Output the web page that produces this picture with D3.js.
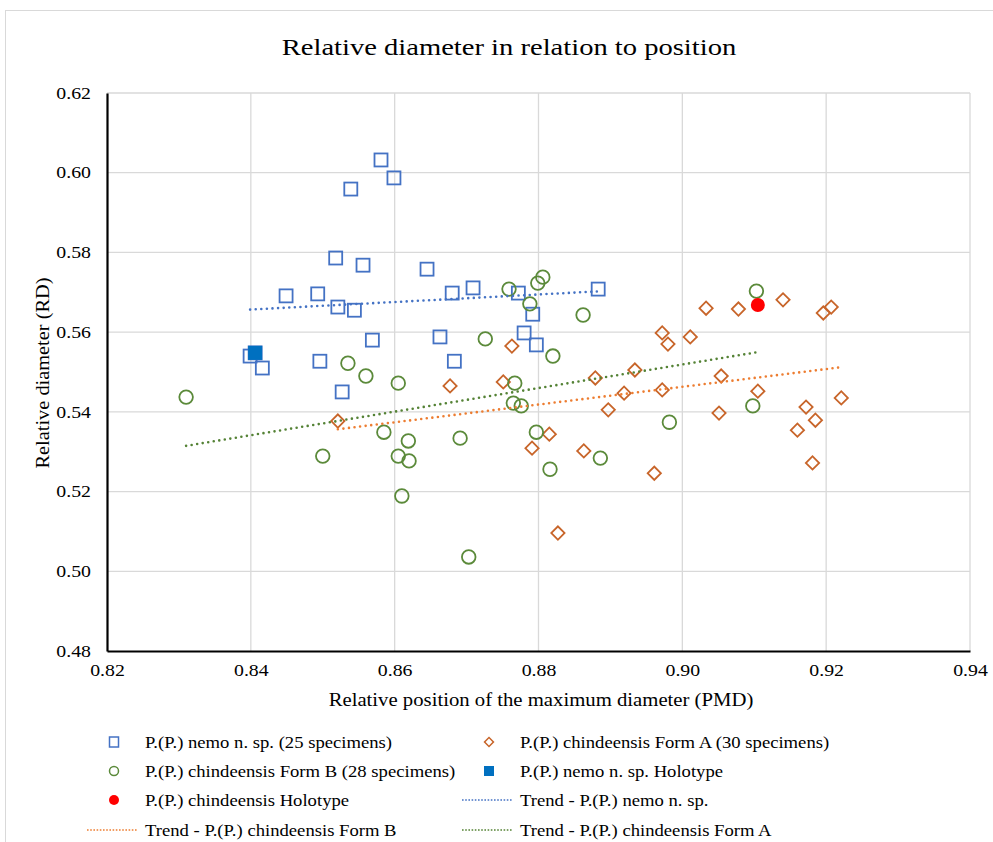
<!DOCTYPE html>
<html>
<head>
<meta charset="utf-8">
<script src="https://cdn.jsdelivr.net/npm/d3@7"></script>
<style>
  body { margin: 0; background: #fff; }
  text { font-family: "Liberation Serif", "Times New Roman", serif; fill: #000; }
</style>
</head>
<body>
<svg id="chart"></svg>
<script>
// P.(P.) nemo n. sp. (hollow squares) - last one sits under the holotype marker
let nemoX = [0.8581, 0.8539, 0.8599, 0.8518, 0.8556, 0.8645, 0.8449, 0.8493, 0.8521, 0.8544,
             0.8680, 0.8709, 0.8772, 0.8883, 0.8569, 0.8663, 0.8780, 0.8792, 0.8797, 0.8683,
             0.8496, 0.8527, 0.8399, 0.8416, 0.8406];
let nemoY = [0.6032, 0.5959, 0.5987, 0.5786, 0.5768, 0.5758, 0.5691, 0.5696, 0.5663, 0.5655,
             0.5698, 0.5711, 0.5698, 0.5708, 0.5580, 0.5588, 0.5598, 0.5645, 0.5568, 0.5527,
             0.5527, 0.5450, 0.5540, 0.5510, 0.5548];

// P.(P.) chindeensis Form A (hollow diamonds)
let formAX = [0.8521, 0.8677, 0.8751, 0.8763, 0.8815, 0.8791, 0.8827, 0.8863, 0.8879, 0.8897,
              0.8919, 0.8934, 0.8961, 0.8972, 0.8972, 0.8980, 0.9011, 0.9033, 0.9078, 0.9140,
              0.9196, 0.9207, 0.9054, 0.9105, 0.9051, 0.9172, 0.9185, 0.9160, 0.9221, 0.9181];
let formAY = [0.5377, 0.5465, 0.5475, 0.5565, 0.5344, 0.5309, 0.5096, 0.5302, 0.5485, 0.5405,
              0.5447, 0.5505, 0.5246, 0.5455, 0.5598, 0.5570, 0.5588, 0.5660, 0.5658, 0.5681,
              0.5648, 0.5663, 0.5490, 0.5452, 0.5397, 0.5412, 0.5379, 0.5354, 0.5435, 0.5272];

// P.(P.) chindeensis Form B (hollow circles)
let formBX = [0.8310, 0.8535, 0.8560, 0.8605, 0.8585, 0.8500, 0.8605, 0.8619, 0.8620, 0.8610,
              0.8691, 0.8703, 0.8726, 0.8759, 0.8806, 0.8799, 0.8788, 0.8862, 0.8820, 0.8767,
              0.8765, 0.8776, 0.8797, 0.8816, 0.8886, 0.8982, 0.9103, 0.9098];
let formBY = [0.5437, 0.5522, 0.5490, 0.5472, 0.5349, 0.5289, 0.5289, 0.5327, 0.5277, 0.5189,
              0.5334, 0.5036, 0.5583, 0.5708, 0.5738, 0.5723, 0.5671, 0.5643, 0.5540, 0.5472,
              0.5422, 0.5415, 0.5349, 0.5256, 0.5284, 0.5374, 0.5703, 0.5415];

// holotypes
let nemoHolotype = [0.8406, 0.5548];
let chindHolotype = [0.9105, 0.5668];

let xTicks = [0.82, 0.84, 0.86, 0.88, 0.90, 0.92, 0.94];
let yTicks = [0.48, 0.50, 0.52, 0.54, 0.56, 0.58, 0.60, 0.62];

let blue = "#4472c4", orange = "#c8652a", green = "#5b8a3a";
let orangeTrend = "#ed7d31", greenTrend = "#548235";

function trend(xs, ys) {
    let mx = d3.mean(xs), my = d3.mean(ys);
    let b = d3.sum(xs, (x, i) => (x - mx) * (ys[i] - my)) / d3.sum(xs, x => (x - mx) * (x - mx));
    let a = my - b * mx;
    let x0 = d3.min(xs), x1 = d3.max(xs);
    return [[x0, a + b * x0], [x1, a + b * x1]];
}

// the source text is drawn a bit wider than the serif font gives
function stretch(sel, f) {
    sel.each(function() {
        let len = this.getComputedTextLength();
        d3.select(this).attr("textLength", len * f).attr("lengthAdjust", "spacingAndGlyphs");
    });
}

function drawChart() {
    let w = 993, h = 842;
    let svg = d3.select("#chart").attr("width", w).attr("height", h);

    svg.append("rect")
        .attr("x", 5.5).attr("y", 10.5)
        .attr("width", 1000).attr("height", 900)
        .attr("fill", "none").attr("stroke", "#d9d9d9");

    let x = d3.scaleLinear().domain([0.82, 0.94]).range([107, 970]);
    let y = d3.scaleLinear().domain([0.48, 0.62]).range([651, 93]);

    // grid
    svg.append("g")
        .selectAll("line")
        .data(xTicks.slice(1))
        .enter().append("line")
        .attr("x1", d => x(d)).attr("x2", d => x(d))
        .attr("y1", y(0.62)).attr("y2", y(0.48))
        .attr("stroke", "#d9d9d9").attr("stroke-width", 1.3);
    svg.append("g")
        .selectAll("line")
        .data(yTicks.slice(1))
        .enter().append("line")
        .attr("x1", x(0.82)).attr("x2", x(0.94))
        .attr("y1", d => y(d)).attr("y2", d => y(d))
        .attr("stroke", "#d9d9d9").attr("stroke-width", 1.3);

    // axes
    let xAxis = svg.append("g")
        .attr("transform", `translate(0,${y(0.48)})`)
        .call(d3.axisBottom(x).tickValues(xTicks).tickFormat(d3.format(".2f")).tickSize(0).tickPadding(13));
    let yAxis = svg.append("g")
        .attr("transform", `translate(${x(0.82)},0)`)
        .call(d3.axisLeft(y).tickValues(yTicks).tickFormat(d3.format(".2f")).tickSize(0).tickPadding(16));
    [xAxis, yAxis].forEach(g => {
        g.attr("font-family", '"Liberation Serif", serif');
        g.select(".domain").attr("stroke", "#000").attr("stroke-width", 2.2);
        g.selectAll("text").style("font-size", "16.5px").attr("fill", "#000");
        stretch(g.selectAll("text"), 1.2);
    });

    // markers
    let sq = 13;
    svg.append("g").selectAll("rect")
        .data(nemoX.map((d, i) => [d, nemoY[i]]))
        .enter().append("rect")
        .attr("x", d => x(d[0]) - sq / 2).attr("y", d => y(d[1]) - sq / 2)
        .attr("width", sq).attr("height", sq)
        .attr("fill", "none").attr("stroke", blue).attr("stroke-width", 1.8);

    let dia = d3.symbol().type(d3.symbolSquare).size(88);
    svg.append("g").selectAll("path")
        .data(formAX.map((d, i) => [d, formAY[i]]))
        .enter().append("path")
        .attr("d", dia)
        .attr("transform", d => `translate(${x(d[0])},${y(d[1])}) rotate(45)`)
        .attr("fill", "none").attr("stroke", orange).attr("stroke-width", 1.8);

    svg.append("g").selectAll("circle")
        .data(formBX.map((d, i) => [d, formBY[i]]))
        .enter().append("circle")
        .attr("cx", d => x(d[0])).attr("cy", d => y(d[1])).attr("r", 6.8)
        .attr("fill", "none").attr("stroke", green).attr("stroke-width", 1.8);

    svg.append("rect")
        .attr("x", x(nemoHolotype[0]) - 7).attr("y", y(nemoHolotype[1]) - 7)
        .attr("width", 14).attr("height", 14)
        .attr("fill", "#0070c0");
    svg.append("circle")
        .attr("cx", x(chindHolotype[0])).attr("cy", y(chindHolotype[1])).attr("r", 7)
        .attr("fill", "#ff0000");

    // trend lines
    let line = d3.line().x(d => x(d[0])).y(d => y(d[1]));
    let trends = [
        [trend(nemoX, nemoY), blue],
        [trend(formAX, formAY), orangeTrend],
        [trend(formBX, formBY), greenTrend]
    ];
    svg.append("g").selectAll("path")
        .data(trends)
        .enter().append("path")
        .attr("d", d => line(d[0]))
        .attr("fill", "none").attr("stroke", d => d[1])
        .attr("stroke-width", 2.6).attr("stroke-linecap", "round")
        .attr("stroke-dasharray", "0 5.6");

    // titles
    let title = svg.append("text")
        .attr("x", 509).attr("y", 55)
        .attr("text-anchor", "middle")
        .style("font-size", "24px")
        .text("Relative diameter in relation to position");
    stretch(title, 1.19);
    let xTitle = svg.append("text")
        .attr("x", 541).attr("y", 706)
        .attr("text-anchor", "middle")
        .style("font-size", "18.5px")
        .text("Relative position of the maximum diameter (PMD)");
    stretch(xTitle, 1.12);
    let yTitle = svg.append("text")
        .attr("transform", `translate(49,373) rotate(-90)`)
        .attr("text-anchor", "middle")
        .style("font-size", "18.5px")
        .text("Relative diameter (RD)");
    stretch(yTitle, 1.1);

    // legend
    let legend = [
        { label: "P.(P.) nemo n. sp. (25 specimens)", kind: "square", col: 0, row: 0 },
        { label: "P.(P.) chindeensis Form A (30 specimens)", kind: "diamond", col: 1, row: 0 },
        { label: "P.(P.) chindeensis Form B (28 specimens)", kind: "circle", col: 0, row: 1 },
        { label: "P.(P.) nemo n. sp. Holotype", kind: "filledSquare", col: 1, row: 1 },
        { label: "P.(P.) chindeensis Holotype", kind: "red", col: 0, row: 2 },
        { label: "Trend - P.(P.) nemo n. sp.", kind: "line", color: blue, col: 1, row: 2 },
        { label: "Trend - P.(P.) chindeensis Form B", kind: "line", color: orangeTrend, col: 0, row: 3 },
        { label: "Trend - P.(P.) chindeensis Form A", kind: "line", color: greenTrend, col: 1, row: 3 }
    ];
    let rowY = [742, 771, 800, 830];
    let colX = [114, 489];
    let textX = [145, 520];
    let lg = svg.append("g").selectAll("g")
        .data(legend)
        .enter().append("g")
        .attr("transform", d => `translate(${colX[d.col]},${rowY[d.row]})`);
    lg.each(function(d) {
        let g = d3.select(this);
        if (d.kind == "square") {
            g.append("rect").attr("x", -4.5).attr("y", -5).attr("width", 9).attr("height", 10)
                .attr("fill", "none").attr("stroke", blue).attr("stroke-width", 1.5);
        } else if (d.kind == "diamond") {
            g.append("path").attr("d", d3.symbol().type(d3.symbolSquare).size(40))
                .attr("transform", "rotate(45)")
                .attr("fill", "none").attr("stroke", orange).attr("stroke-width", 1.5);
        } else if (d.kind == "circle") {
            g.append("circle").attr("r", 4.5)
                .attr("fill", "none").attr("stroke", green).attr("stroke-width", 1.5);
        } else if (d.kind == "filledSquare") {
            g.append("rect").attr("x", -5).attr("y", -5).attr("width", 10).attr("height", 10)
                .attr("fill", "#0070c0");
        } else if (d.kind == "red") {
            g.append("circle").attr("r", 5).attr("fill", "#ff0000");
        } else {
            g.append("line").attr("x1", -27).attr("x2", 23).attr("y1", 0).attr("y2", 0)
                .attr("stroke", d.color).attr("stroke-width", 1.6)
                .attr("stroke-dasharray", "1.6 1.6");
        }
        let t = g.append("text")
            .attr("x", textX[d.col] - colX[d.col]).attr("y", 0)
            .attr("dy", "0.35em")
            .style("font-size", "16.5px")
            .text(d.label);
        stretch(t, 1.13);
    });
}

window.onload = function() {
    drawChart();
};
</script>
</body>
</html>
